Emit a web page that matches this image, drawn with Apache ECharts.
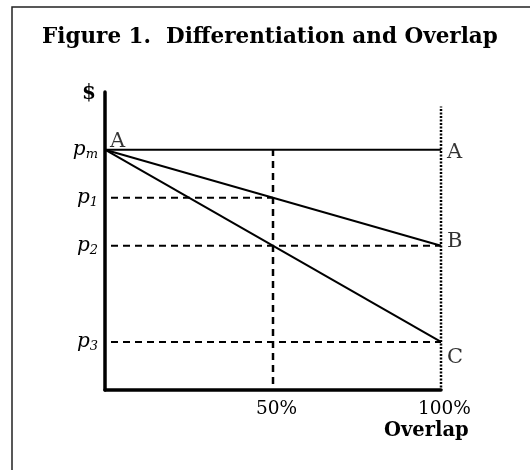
<!DOCTYPE html>
<html>
<head>
<meta charset="utf-8">
<script src="https://cdn.jsdelivr.net/npm/echarts@6/dist/echarts.min.js"></script>
<style>
  html, body { margin: 0; padding: 0; background: #fff; }
  #chart { width: 530px; height: 470px; }
</style>
</head>
<body>
<div id="chart"></div>
<script>
// 价格水平 (纵轴) 与重叠比例 (横轴)
var priceLevels = [5, 4, 3, 1];           // pm, p1, p2, p3
var priceNames = ['m', '1', '2', '3'];     // 下标
var xTicks = [50, 100];
var xTickNames = ['50%', '100%'];

var lineA = [[0, 5], [100, 5]];
var lineB = [[0, 5], [100, 3]];
var lineC = [[0, 5], [100, 1]];

var dashP1 = [[0, 4], [50, 4]];
var dashP2 = [[0, 3], [100, 3]];
var dashP3 = [[0, 1], [100, 1]];
var dash50 = [[50, 0], [50, 5]];
var dot100 = [[100, 0], [100, 5.9]];

var endLetters = [[100, 5, 'A'], [100, 3, 'B'], [100, 1, 'C']];
var startLetter = [[0, 5, 'A']];

var serif = '"DejaVu Serif", "Liberation Serif", serif';
var letterOffsets = [[0, 3], [0, -4], [0, 16]];

function seg(data, width, type) {
    return {
        type: 'line',
        data: data,
        symbol: 'none',
        silent: true,
        lineStyle: { color: '#000', width: width, type: type, cap: 'butt', dashOffset: -6 }
    };
}

var chart = echarts.init(document.getElementById('chart'));
var option = {
    animation: false,
    title: {
        text: 'Figure 1.  Differentiation and Overlap',
        left: 37,
        top: 21,
        textStyle: { fontFamily: serif, fontWeight: 'bold', fontSize: 21.5, color: '#000' }
    },
    graphic: [
        {
            type: 'rect',
            shape: { x: 12, y: 7, width: 540, height: 480 },
            style: { fill: 'none', stroke: '#222', lineWidth: 1.5 }
        },
        {
            type: 'text', left: 82, top: 84,
            style: { text: '$', font: 'bold 20px ' + serif, fill: '#000' }
        },
        {
            type: 'text', left: 384, top: 421,
            style: { text: 'Overlap', font: 'bold 19.5px ' + serif, fill: '#000' }
        }
    ],
    grid: { left: 105, right: 89, top: 92, bottom: 80 },
    xAxis: {
        type: 'value',
        min: 0, max: 100, interval: 50,
        splitLine: { show: false },
        axisTick: { show: false },
        axisLine: { lineStyle: { color: '#000', width: 3.5 } },
        axisLabel: {
            margin: 10,
            padding: [0, 0, 0, 7],
            fontFamily: serif, fontSize: 18.5, color: '#000',
            formatter: function (v) {
                var i = xTicks.indexOf(v);
                return i < 0 ? '' : xTickNames[i];
            }
        }
    },
    yAxis: {
        type: 'value',
        min: 0, max: 6.2, interval: 1,
        splitLine: { show: false },
        axisTick: { show: false },
        axisLine: { show: true, lineStyle: { color: '#000', width: 3.5 } },
        axisLabel: {
            margin: 7,
            color: '#000',
            formatter: function (v) {
                var i = priceLevels.indexOf(v);
                return i < 0 ? '' : '{p|p}{s|' + priceNames[i] + '}';
            },
            rich: {
                p: { fontFamily: serif, fontStyle: 'italic', fontSize: 20, color: '#000' },
                s: { fontFamily: serif, fontStyle: 'italic', fontSize: 13, color: '#000', verticalAlign: 'bottom', padding: [9, 0, 0, 0] }
            }
        }
    },
    series: [
        seg(dashP1, 2, [7, 5]),
        seg(dashP2, 2, [7, 5]),
        seg(dashP3, 2, [7, 5]),
        seg(dash50, 2.5, [7, 5]),
        seg(dot100, 2.5, [2, 1.5]),
        seg(lineA, 2, 'solid'),
        seg(lineB, 2, 'solid'),
        seg(lineC, 2, 'solid'),
        {
            type: 'scatter',
            data: endLetters.map(function (d, i) {
                return { value: d, label: { offset: letterOffsets[i] } };
            }),
            symbolSize: 0,
            silent: true,
            label: {
                show: true, position: 'right', distance: 6,
                formatter: function (p) { return p.data.value[2]; },
                fontFamily: serif, fontSize: 21, color: '#000'
            }
        },
        {
            type: 'scatter',
            data: startLetter,
            symbolSize: 0,
            silent: true,
            label: {
                show: true, position: 'insideBottomLeft', offset: [0, 7],
                formatter: function (p) { return p.data[2]; },
                fontFamily: serif, fontSize: 21, color: '#000'
            }
        }
    ]
};
chart.setOption(option);
</script>
</body>
</html>
